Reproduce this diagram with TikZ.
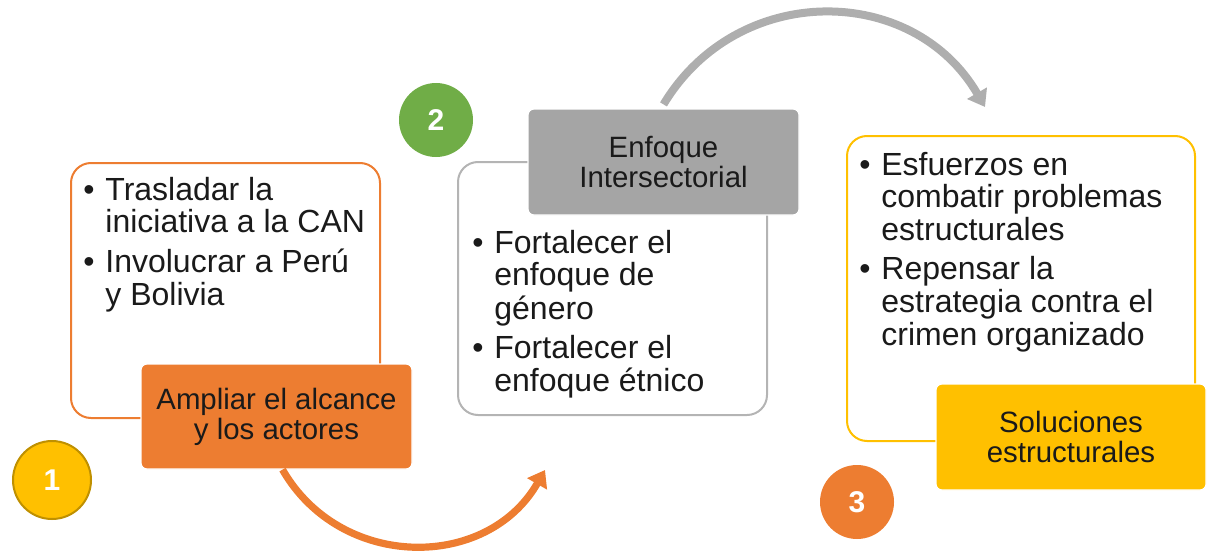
\documentclass[tikz,border=0pt]{standalone}
\usepackage{fontspec}
\setmainfont{Liberation Sans}
\usepackage{tikz}
\usetikzlibrary{arrows.meta, positioning}
\definecolor{naranja}{HTML}{ED7D31}
\definecolor{amarillo}{HTML}{FFC000}
\definecolor{verde}{HTML}{70AD47}
\definecolor{gris}{HTML}{A5A5A5}
\definecolor{grisborde}{HTML}{B4B4B4}
\definecolor{texto}{HTML}{1A1A1A}
\newcommand{\vinetas}[1]{\begin{tabular}[t]{@{}p{11pt}@{}l@{}}#1\end{tabular}}

\begin{document}
\begin{tikzpicture}[x=0.5pt,y=-0.5pt,
  marco/.style={draw,line width=1pt,rounded corners=10pt,fill=white,inner sep=0pt},
  titulo/.style={draw=white,line width=0.6pt,rounded corners=3pt,align=center,text=texto,inner sep=0pt,
    minimum width=135.5pt,minimum height=52.5pt,font=\fontsize{14.7}{15}\selectfont},
  lista/.style={anchor=base west,inner sep=0pt,text=texto,font=\fontsize{16}{16.2}\selectfont},
  num/.style={circle,inner sep=0pt,minimum size=37pt,text=white,font=\fontsize{15}{15}\selectfont\bfseries},
  flecha/.style={line width=4pt,-{Triangle[width=11pt,length=8pt]}}]
 \useasboundingbox (0,0) rectangle (1213,551);

 % marcos
 \node[marco,draw=naranja,minimum width=154.5pt,minimum height=127.5pt] (m1) at (225.5,290.5) {};
 \node[marco,draw=grisborde,minimum width=154.5pt,minimum height=126.5pt] (m2) at (612.5,288.5) {};
 \node[marco,draw=amarillo,minimum width=174pt,minimum height=152.5pt] (m3) at (1021,288.5) {};

 % titulos
 \node[titulo,fill=naranja] (ttl1) at (276.5,416.5) {Ampliar el alcance\\y los actores};
 \node[titulo,fill=gris,minimum height=53pt] (ttl2) at (663.5,162) {Enfoque\\Intersectorial};
 \node[titulo,fill=amarillo,minimum width=135pt,minimum height=53pt] (ttl3) at (1071,437) {Soluciones\\estructurales};

 % listas
 \node[lista] (l1) at (83,200) {\vinetas{\textbullet & Trasladar la\\ & iniciativa a la CAN\\[3pt]
   \textbullet & Involucrar a Perú\\ & y Bolivia}};
 \node[lista] (l2) at (472,253) {\vinetas{\textbullet & Fortalecer el\\ & enfoque de\\ & género\\[3pt]
   \textbullet & Fortalecer el\\ & enfoque étnico}};
 \node[lista] (l3) at (859,175) {\vinetas{\textbullet & Esfuerzos en\\ & combatir problemas\\ & estructurales\\[3pt]
   \textbullet & Repensar la\\ & estrategia contra el\\ & crimen organizado}};

 % numeros
 \node[num,fill=amarillo,draw=amarillo!75!black,line width=1pt,minimum size=39pt] (n1) at (52,480) {1};
 \node[num,fill=verde] (n2) at (436,120) {2};
 \node[num,fill=naranja] (n3) at (857,502) {3};

 % flechas
 \coordinate (p1) at (545,470);
 \coordinate (p2) at (985,107);
 \draw[flecha,naranja,line width=3.6pt] ([xshift=3pt]ttl1.south) .. controls +(58,101) and +(-58,101) .. (p1);
 \draw[flecha,gris!90] ([yshift=2pt]ttl2.north) .. controls +(74,-123) and +(-72,-124) .. (p2);
\end{tikzpicture}
\end{document}
